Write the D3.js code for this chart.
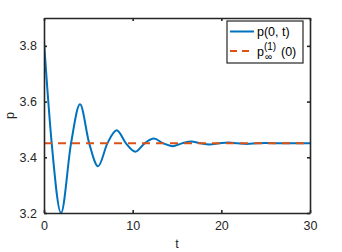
<!DOCTYPE html>
<html>
<head>
<meta charset="utf-8">
<script src="https://cdn.jsdelivr.net/npm/d3@7"></script>
<style>
  body { margin: 0; background: #fff; }
  svg { display: block; font-family: "Liberation Sans", Arial, sans-serif; }
</style>
</head>
<body>
<svg width="342" height="252"></svg>
<script>
// p(0, t): at peaks, troughs and crossings of 3.45
var tValues = [0, 0.87, 1.92, 3.05, 4.06, 5.1, 6.1, 7.15, 8.2, 9.25, 10.3, 11.35, 12.4, 13.45,
               14.5, 15.55, 16.6, 17.65, 18.7, 19.75, 20.8, 21.85, 22.9, 24, 25, 27, 30];
var pValues = [3.815, 3.45, 3.2, 3.45, 3.59, 3.45, 3.368, 3.45, 3.497, 3.45, 3.42, 3.45, 3.467, 3.45,
               3.44, 3.45, 3.457, 3.45, 3.446, 3.45, 3.453, 3.45, 3.448, 3.45, 3.451, 3.45, 3.45];
var pInf = 3.45;

var xTicks = [0, 10, 20, 30];
var yTicks = [3.2, 3.4, 3.6, 3.8];

var svg = d3.select("svg"),
    plotLeft = 44, plotRight = 310, plotTop = 18, plotBottom = 213;

var x = d3.scaleLinear().domain([0, 30]).range([plotLeft, plotRight]);
var y = d3.scaleLinear().domain([3.2, 3.9]).range([plotBottom, plotTop]);

var axisColor = "#262626";

// clip the curve to the axes box
svg.append("clipPath").attr("id", "box")
    .append("rect")
    .attr("x", plotLeft).attr("y", plotTop)
    .attr("width", plotRight - plotLeft).attr("height", plotBottom - plotTop);

var data = tValues.map(function (t, i) {
    return {t: t, p: pValues[i]};
});

var line = d3.line()
    .x(function (d) { return x(d.t); })
    .y(function (d) { return y(d.p); })
    .curve(d3.curveMonotoneX);

var plot = svg.append("g").attr("clip-path", "url(#box)");

plot.append("path")
    .datum(data)
    .attr("d", line)
    .attr("fill", "none")
    .attr("stroke", "#0072BD")
    .attr("stroke-width", 2);

plot.append("line")
    .attr("x1", x(0)).attr("x2", x(30))
    .attr("y1", y(pInf)).attr("y2", y(pInf))
    .attr("stroke", "#D95319")
    .attr("stroke-width", 2)
    .attr("stroke-dasharray", "8,6");

// axes, MATLAB style: ticks inside, box on
var tickLen = 3;
var xAxis = d3.axisBottom(x).tickValues(xTicks).tickSizeInner(-tickLen).tickSizeOuter(0).tickPadding(8);
var xAxisTop = d3.axisTop(x).tickValues(xTicks).tickSizeInner(-tickLen).tickSizeOuter(0).tickFormat("");
var yAxis = d3.axisLeft(y).tickValues(yTicks).tickSizeInner(-tickLen).tickSizeOuter(0).tickPadding(7)
    .tickFormat(d3.format(".1f"));
var yAxisRight = d3.axisRight(y).tickValues(yTicks).tickSizeInner(-tickLen).tickSizeOuter(0).tickFormat("");

function style(g) {
    g.selectAll("path, line").attr("stroke", axisColor).attr("stroke-width", 1.6);
    g.selectAll("text").attr("fill", axisColor).attr("font-size", 12.5)
        .attr("font-family", "Liberation Sans, Arial, sans-serif");
}

svg.append("g").attr("transform", "translate(0," + plotBottom + ")").call(xAxis).call(style);
svg.append("g").attr("transform", "translate(0," + plotTop + ")").call(xAxisTop).call(style);
svg.append("g").attr("transform", "translate(" + plotLeft + ",0)").call(yAxis).call(style);
svg.append("g").attr("transform", "translate(" + plotRight + ",0)").call(yAxisRight).call(style);

// axis labels
svg.append("text")
    .attr("x", (plotLeft + plotRight) / 2).attr("y", 248)
    .attr("text-anchor", "middle")
    .attr("font-size", 12.5).attr("fill", axisColor)
    .text("t");

svg.append("text")
    .attr("transform", "translate(14," + (plotTop + plotBottom) / 2 + ") rotate(-90)")
    .attr("text-anchor", "middle")
    .attr("font-size", 12.5).attr("fill", axisColor)
    .text("p");

// legend
var legend = svg.append("g").attr("transform", "translate(227,21)");
legend.append("rect")
    .attr("width", 76).attr("height", 42)
    .attr("fill", "#fff")
    .attr("stroke", axisColor).attr("stroke-width", 1.2);

legend.append("line")
    .attr("x1", 3).attr("x2", 27).attr("y1", 10.5).attr("y2", 10.5)
    .attr("stroke", "#0072BD").attr("stroke-width", 2);
legend.append("text")
    .attr("x", 30).attr("y", 15)
    .attr("font-size", 12.5).attr("fill", "#000")
    .text("p(0, t)");

legend.append("line")
    .attr("x1", 3).attr("x2", 27).attr("y1", 30).attr("y2", 30)
    .attr("stroke", "#D95319").attr("stroke-width", 2)
    .attr("stroke-dasharray", "7,5");
var t2 = legend.append("text")
    .attr("x", 30).attr("y", 35)
    .attr("font-size", 12.5).attr("fill", "#000");
t2.append("tspan").text("p");
t2.append("tspan").attr("font-size", 10).attr("dy", -6).text("(1)");
t2.append("tspan").attr("font-size", 10).attr("x", 38).attr("dy", 10).text("\u221E");
t2.append("tspan").attr("x", 54).attr("dy", -4).text("(0)");
</script>
</body>
</html>
